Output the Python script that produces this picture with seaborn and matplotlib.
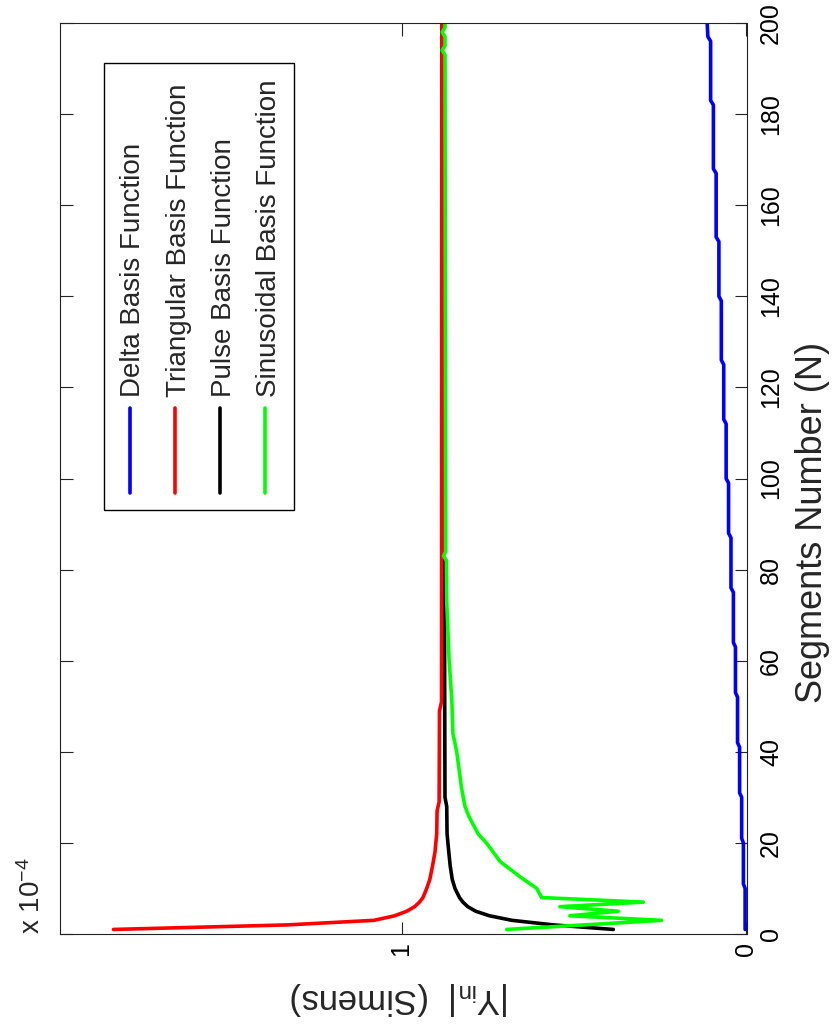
import matplotlib
matplotlib.use("Agg")
import matplotlib.pyplot as plt
import seaborn as sns

# |Y_in| in units of 1e-4 S versus number of segments N
delta_n = [1, 10, 11, 20, 21, 30, 31, 41, 42, 52, 53, 63, 64, 75, 76, 87, 88,
           99, 100, 112, 113, 125, 126, 139, 140, 152, 153, 167, 168, 182, 183,
           196, 197, 200]
delta_y = [0.004, 0.004, 0.009, 0.009, 0.014, 0.014, 0.020, 0.020, 0.026, 0.026,
           0.032, 0.032, 0.038, 0.038, 0.045, 0.045, 0.052, 0.052, 0.059, 0.059,
           0.066, 0.066, 0.073, 0.073, 0.080, 0.080, 0.088, 0.088, 0.096, 0.096,
           0.104, 0.104, 0.112, 0.114]

tri_n = [1, 2, 3, 4, 5, 6, 7, 8, 10, 12, 15, 18, 22, 27, 29, 49, 51, 200]
tri_y = [1.835, 1.33, 1.08, 1.02, 0.985, 0.962, 0.948, 0.938, 0.927, 0.918,
         0.910, 0.903, 0.898, 0.897, 0.891, 0.890, 0.884, 0.883]

pulse_n = [1, 2, 3, 4, 5, 6, 7, 8, 10, 12, 15, 18, 22, 28, 30, 82, 84, 200]
pulse_y = [0.386, 0.56, 0.68, 0.745, 0.785, 0.808, 0.822, 0.832, 0.845, 0.853,
           0.859, 0.863, 0.868, 0.869, 0.874, 0.876, 0.883, 0.883]

sin_n = [1, 2, 3, 4, 5, 6, 7, 8, 10, 12.6, 15.9, 19.9, 22, 25.7, 28, 32, 36, 40,
         44, 51, 60, 73, 82, 83, 84, 193, 194, 195, 197, 198, 199, 200]
sin_y = [0.695, 0.47, 0.246, 0.512, 0.372, 0.541, 0.299, 0.594, 0.608, 0.657,
         0.714, 0.753, 0.778, 0.804, 0.816, 0.826, 0.833, 0.840, 0.851, 0.854,
         0.862, 0.869, 0.870, 0.878, 0.872, 0.874, 0.882, 0.874, 0.874, 0.882,
         0.874, 0.874]

series = [
    ("Delta Basis Function", delta_n, delta_y, "#0000ff"),
    ("Triangular Basis Function", tri_n, tri_y, "#ff0000"),
    ("Pulse Basis Function", pulse_n, pulse_y, "#000000"),
    ("Sinusoidal Basis Function", sin_n, sin_y, "#00ff00"),
]
draw_order = [0, 2, 1, 3]  # red sits over black where they meet

sns.set_style("white")
plt.rcParams["font.family"] = ["Liberation Sans", "DejaVu Sans"]
plt.rcParams["mathtext.fontset"] = "custom"
plt.rcParams["mathtext.rm"] = "Liberation Sans"
plt.rcParams["mathtext.it"] = "Liberation Sans"

W, H = 833, 1029
fig = plt.figure(figsize=(W / 100, H / 100), dpi=100)


def fx(x):
    return x / W


def fy(y):
    return 1 - y / H


# the whole MATLAB figure is turned a quarter turn: N runs upward
ax = fig.add_axes([fx(60), fy(934), fx(746.5) - fx(60), fy(23) - fy(934)])

for i in draw_order:
    name, n, y, c = series[i]
    sns.lineplot(x=y, y=n, sort=False, estimator=None, color=c, lw=2.6,
                 ax=ax, legend=False)

ax.set_xlim(1.99, 0)
ax.set_ylim(0, 200)
ax.set_xticks([0, 1])
ax.set_xticklabels(["0", "1"])
ax.set_yticks(range(0, 201, 20))
ax.set_xlabel("")
ax.set_ylabel("")

for s in ax.spines.values():
    s.set_linewidth(0.8)
    s.set_color("#222222")

ax.tick_params(axis="both", direction="in", length=9, width=0.8,
               colors="#222222", labelcolor="black", labelsize=18)
ax.tick_params(axis="x", top=True, bottom=True, labelrotation=90, pad=6)
ax.tick_params(axis="y", left=True, right=True, labelleft=False,
               labelright=True, labelrotation=90, pad=9)
for t in ax.get_yticklabels():
    t.set_verticalalignment("center")

fig.text(fx(812), fy(522), "Segments Number (N)", fontsize=26, rotation=90,
         ha="center", va="center")
fig.text(fx(400), fy(998), r"|Y$_{\rm in}$|  (Simens)", fontsize=25,
         rotation=180, ha="center", va="center")
fig.text(fx(46), fy(934), r"x 10$^{-4}$", rotation=90, fontsize=20,
         ha="right", va="bottom")

# legend, drawn turned like the rest of the figure
box = plt.Rectangle((fx(103.5), fy(510)), fx(294) - fx(103.5),
                    fy(62.5) - fy(510), transform=fig.transFigure,
                    fill=True, facecolor="white", edgecolor="black", lw=1.0)
fig.patches.append(box)
for i, (name, n, y, c) in enumerate(series):
    lx = 129.5 + i * 45.2
    fig.add_artist(plt.Line2D([fx(lx), fx(lx)], [fy(493), fy(408)],
                              color=c, lw=2.6, transform=fig.transFigure))
    fig.text(fx(lx + 4), fy(397), name, rotation=90, fontsize=20,
             ha="center", va="bottom")

fig.savefig("out.png", dpi=100, facecolor="white")
